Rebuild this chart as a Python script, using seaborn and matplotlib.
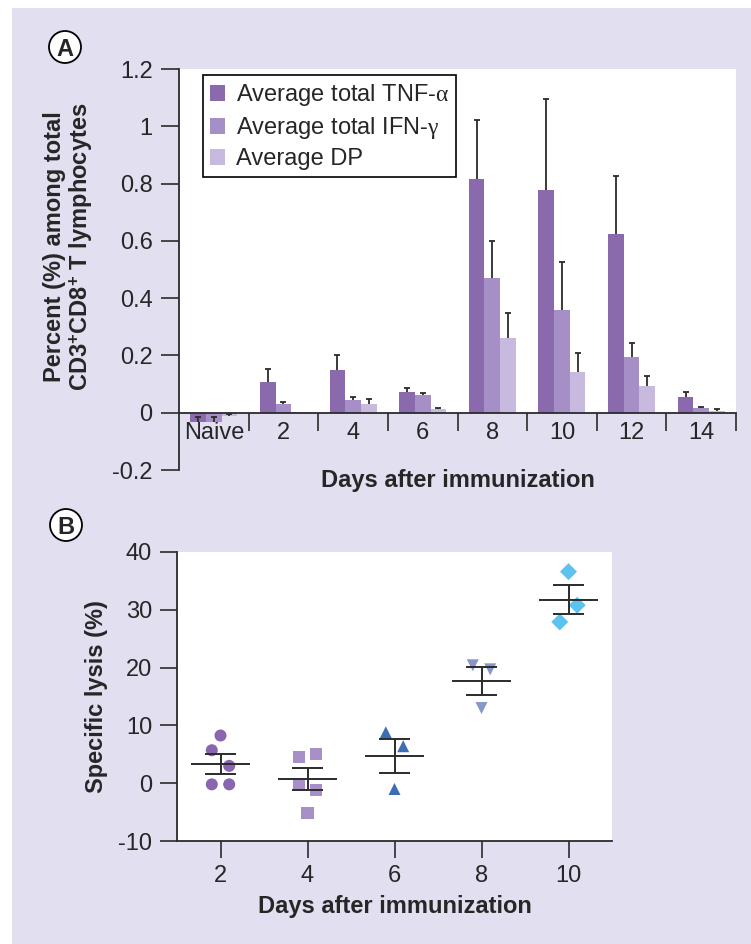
import numpy as np
import pandas as pd
import matplotlib
matplotlib.use("Agg")
import matplotlib.pyplot as plt
import seaborn as sns
from matplotlib.patches import Rectangle, Ellipse

# ---------------- data ----------------
categories = ["Naive", "2", "4", "6", "8", "10", "12", "14"]
series_names = ["Average total TNF-$\\mathrm{\\alpha}$", "Average total IFN-$\\mathrm{\\gamma}$", "Average DP"]
tnf = [-0.033, 0.106, 0.149, 0.072, 0.815, 0.776, 0.623, 0.056]
tnf_err = [0.017, 0.047, 0.053, 0.013, 0.207, 0.319, 0.204, 0.017]
ifn = [-0.033, 0.029, 0.043, 0.062, 0.471, 0.359, 0.194, 0.015]
ifn_err = [0.017, 0.008, 0.011, 0.008, 0.130, 0.167, 0.049, 0.006]
dp = [-0.013, 0.002, 0.029, 0.013, 0.262, 0.141, 0.094, 0.007]
dp_err = [0.007, 0.0, 0.019, 0.005, 0.087, 0.069, 0.034, 0.005]
y_ticks_a = [-0.2, 0, 0.2, 0.4, 0.6, 0.8, 1.0, 1.2]

days_b = [2, 4, 6, 8, 10]
lysis_d2 = [8.25, 5.7, 3.0, -0.2, -0.2]
lysis_d4 = [4.6, 5.1, -0.2, -1.1, -5.1]
lysis_d6 = [8.8, 6.4, -1.0]
lysis_d8 = [20.4, 19.7, 13.0]
lysis_d10 = [36.6, 30.8, 27.9]
y_ticks_b = [-10, 0, 10, 20, 30, 40]

# horizontal jitter of the dots (layout only)
jitter = {2: [0, -0.2, 0.2, -0.2, 0.2], 4: [-0.2, 0.2, -0.2, 0.2, 0],
          6: [-0.2, 0.2, 0], 8: [-0.2, 0.2, 0], 10: [0, 0.2, -0.2]}

# ---------------- style ----------------
LAV = "#e2dff0"
bar_colors = ["#8a6aad", "#a68fc6", "#c8bade"]
pt_colors = {2: "#8a66b0", 4: "#a98fca", 6: "#3d6db5", 8: "#8797ca", 10: "#5cc2ee"}
pt_markers = {2: "o", 4: "s", 6: "^", 8: "v", 10: "D"}
DARK = "#2b2b2b"
FS = 17

sns.set_theme(style="white")
plt.rcParams["font.family"] = ["Liberation Sans", "DejaVu Sans"]
plt.rcParams["axes.unicode_minus"] = False
plt.rcParams["mathtext.fontset"] = "custom"
plt.rcParams["mathtext.rm"] = "Liberation Serif"
plt.rcParams["mathtext.bf"] = "Liberation Sans:bold"
plt.rcParams["mathtext.it"] = "Liberation Serif:italic"

W, H = 751, 944
fig = plt.figure(figsize=(W / 100, H / 100), dpi=100)
fig.patch.set_facecolor("white")
fig.add_artist(Rectangle((12 / W, 0), 1, 1 - 8 / H, transform=fig.transFigure,
                         facecolor=LAV, edgecolor="none", zorder=-10))


def px_axes(l, t, r, b):
    return fig.add_axes([l / W, 1 - b / H, (r - l) / W, (b - t) / H])


# ---------------- panel A ----------------
axA = px_axes(179, 69, 736, 470)
axA.set_facecolor(LAV)
axA.add_patch(Rectangle((-0.5, 0), 8, 1.2, facecolor="white", edgecolor="none", zorder=0))

df_a = pd.DataFrame({
    "cat": categories * 3,
    "series": sum([[s] * len(categories) for s in series_names], []),
    "value": tnf + ifn + dp,
})
sns.barplot(data=df_a, x="cat", y="value", hue="series", palette=bar_colors,
            width=0.675, errorbar=None, saturation=1, linewidth=0, ax=axA, zorder=2)

for cont, vals, errs in zip(axA.containers, [tnf, ifn, dp], [tnf_err, ifn_err, dp_err]):
    xs = [p.get_x() + p.get_width() / 2 for p in cont.patches]
    vals = np.array(vals)
    errs = np.array(errs)
    m = errs > 0
    eb = axA.errorbar(np.array(xs)[m], vals[m], yerr=[np.zeros(m.sum()), errs[m]],
                      fmt="none", ecolor=DARK, elinewidth=1.3, capsize=2.5,
                      capthick=1.3, zorder=3)
    for cl in eb[1]:
        if np.allclose(cl.get_ydata(), vals[m]):
            cl.set_visible(False)

axA.set_xlim(-0.5, 7.5)
axA.set_ylim(-0.2, 1.2)
axA.set_yticks(y_ticks_a)
axA.set_yticklabels(["%g" % v for v in y_ticks_a])
axA.set_xticks(np.arange(0.5, 8, 1))
axA.set_xticklabels([])
axA.set_xticks(np.arange(8), minor=True)
axA.set_xticklabels(categories, minor=True)
axA.tick_params(axis="x", which="major", length=13, width=1.2, color=DARK, direction="out", bottom=True)
axA.tick_params(axis="x", which="minor", length=0, pad=7, labelsize=FS, bottom=True)
axA.tick_params(axis="y", length=13, width=1.2, color=DARK, direction="out", pad=6,
                labelsize=FS, left=True)
axA.spines["bottom"].set_position(("data", 0))
for s in ["top", "right"]:
    axA.spines[s].set_visible(False)
for s in ["left", "bottom"]:
    axA.spines[s].set_color(DARK)
    axA.spines[s].set_linewidth(1.3)

axA.set_xlabel("Days after immunization", fontsize=FS, fontweight="bold")
axA.xaxis.label.set_va("center")
axA.xaxis.set_label_coords(0.5, (470 - 480) / 401)
axA.set_ylabel("Percent (%) among total\nCD3$^{\\mathbf{+}}$CD8$^{\\mathbf{+}}$ T lymphocytes",
               fontsize=FS, fontweight="bold", linespacing=1.05)
axA.yaxis.label.set_va("center")
axA.yaxis.set_label_coords((68 - 179) / 557, (470 - 247) / 401)

leg = axA.legend(loc="upper left", bbox_to_anchor=(0.043, 0.985), borderaxespad=0,
                 fontsize=FS, frameon=True, fancybox=False, handlelength=0.65,
                 handleheight=0.65, handletextpad=0.45, labelspacing=0.3,
                 borderpad=0.3, title=None)
leg.get_frame().set_edgecolor("black")
leg.get_frame().set_linewidth(1.2)
leg.get_frame().set_facecolor("white")
leg.get_frame().set_alpha(1)

# ---------------- panel B ----------------
axB = px_axes(177, 552, 612, 841)
axB.set_facecolor("white")

rows = []
for d, vals in zip(days_b, [lysis_d2, lysis_d4, lysis_d6, lysis_d8, lysis_d10]):
    for v, off in zip(vals, jitter[d]):
        rows.append({"day": d, "xpos": d + off, "lysis": v})
df_b = pd.DataFrame(rows)
sns.scatterplot(data=df_b, x="xpos", y="lysis", hue="day", style="day",
                palette=pt_colors, markers=pt_markers, s=75, linewidth=0,
                legend=False, ax=axB, zorder=2)

# mean +/- SEM
for d, g in df_b.groupby("day"):
    mu = g["lysis"].mean()
    sem = g["lysis"].std(ddof=1) / np.sqrt(len(g))
    axB.hlines(mu, d - 0.68, d + 0.68, color=DARK, lw=1.4, zorder=3)
    axB.hlines([mu - sem, mu + sem], d - 0.35, d + 0.35, color=DARK, lw=1.4, zorder=3)
    axB.vlines(d, mu - sem, mu + sem, color=DARK, lw=1.4, zorder=3)

axB.set_xlim(1, 11)
axB.set_ylim(-10, 40)
axB.set_xticks(days_b)
axB.set_xticklabels([str(d) for d in days_b])
axB.set_yticks(y_ticks_b)
axB.tick_params(axis="both", length=12, width=1.2, color=DARK, direction="out",
                labelsize=FS, bottom=True, left=True)
axB.tick_params(axis="y", pad=6)
axB.tick_params(axis="x", pad=5)
for s in ["top", "right"]:
    axB.spines[s].set_visible(False)
for s in ["left", "bottom"]:
    axB.spines[s].set_color(DARK)
    axB.spines[s].set_linewidth(1.3)
axB.set_xlabel("Days after immunization", fontsize=FS, fontweight="bold")
axB.xaxis.label.set_va("center")
axB.xaxis.set_label_coords(0.5, (841 - 906) / 289)
axB.set_ylabel("Specific lysis (%)", fontsize=FS, fontweight="bold")
axB.yaxis.label.set_va("center")
axB.yaxis.set_label_coords((96 - 177) / 435, (841 - 697) / 289)

# ---------------- panel letters ----------------
for letter, (cx, cy) in {"A": (65, 47), "B": (66, 525)}.items():
    fig.add_artist(Ellipse((cx / W, 1 - cy / H), 32 / W, 32 / H, transform=fig.transFigure,
                           facecolor="white", edgecolor="black", lw=1.3))
    fig.text(cx / W, 1 - cy / H, letter, ha="center", va="center_baseline",
             fontsize=17, fontweight="bold")

fig.savefig("out.png", dpi=100, facecolor=fig.get_facecolor())
